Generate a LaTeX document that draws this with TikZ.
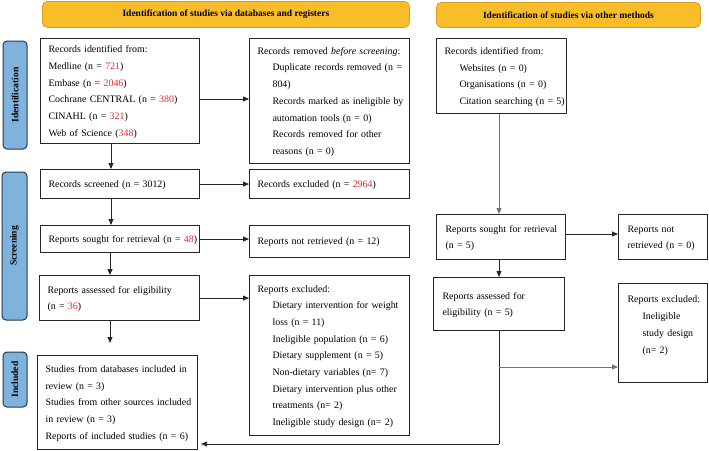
\documentclass[tikz,border=0pt]{standalone}
\usepackage{fontspec}
\setmainfont{Liberation Serif}
\usetikzlibrary{arrows.meta,calc}
\definecolor{numred}{RGB}{232,40,40}
\definecolor{hdrfill}{RGB}{248,189,40}
\definecolor{hdrdraw}{RGB}{214,156,40}
\definecolor{sidefill}{RGB}{128,178,222}
\definecolor{sidedraw}{RGB}{40,55,75}
\newcommand\rn[1]{\textcolor{numred}{#1}}
\newcommand\ind{\hspace*{15pt}}
\newcommand\tl[1]{\begin{tabular}{@{}l@{}}#1\end{tabular}}
\begin{document}
\begin{tikzpicture}[x=1pt,y=-1pt,
  box/.style={draw=black!85, line width=1.1pt, anchor=north west, inner xsep=8pt, inner ysep=2pt,
    align=left, font=\fontsize{9.9}{16.7}\selectfont},
  hdr/.style={draw=hdrdraw, fill=hdrfill, line width=0.8pt, rounded corners=5pt, anchor=north west,
    inner sep=0pt, font=\fontsize{9.5}{11}\selectfont\bfseries},
  side/.style={draw=sidedraw, fill=sidefill, line width=1pt, rounded corners=4pt, rotate=90,
    inner sep=0pt, font=\fontsize{9.5}{11}\selectfont\bfseries},
  arr/.style={draw=black!85, line width=0.8pt, -{Triangle[length=6pt,width=5pt]}},
  ln/.style={draw=black!85, line width=0.8pt},
  garr/.style={draw=black!55, line width=0.8pt, -{Triangle[length=6pt,width=5pt]}}
]
\useasboundingbox (0,0) rectangle (709,450);

% headers
\node[hdr, minimum width=367pt, minimum height=26pt] (h1) at (42,1) {Identification of studies via databases and registers};
\node[hdr, minimum width=264pt, minimum height=25pt] (h2) at (436,2) {Identification of studies via other methods};

% side labels
\node[side, minimum width=108pt, minimum height=24pt] (sid) at (15,95) {Identification};
\node[side, minimum width=148pt, minimum height=25pt] (ssc) at (14.5,246) {Screening};
\node[side, minimum width=55pt, minimum height=24pt] (sin) at (15,379.5) {Included};

% left column
\node[box, text width=143pt, minimum height=105pt] (A) at (40,38) {\tl{Records identified from:\\
Medline (n = \rn{721})\\
Embase (n = \rn{2046})\\
Cochrane CENTRAL (n = \rn{380})\\
CINAHL (n = \rn{321})\\
Web of Science (\rn{348})}};

\node[box, text width=144pt, minimum height=125pt] (B) at (249,38) {\tl{Records removed \textit{before screening}:\\
\ind Duplicate records removed (n =\\
\ind 804)\\
\ind Records marked as ineligible by\\
\ind automation tools (n = 0)\\
\ind Records removed for other\\
\ind reasons (n = 0)}};

\node[box, text width=143pt, minimum height=29pt] (C) at (40,169) {\tl{Records screened (n = 3012)}};
\node[box, text width=144pt, minimum height=29pt] (D) at (249,169) {\tl{Records excluded (n = \rn{2964})}};

\node[box, text width=143pt, minimum height=27pt] (E) at (40,225) {\tl{Reports sought for retrieval (n = \rn{48})}};
\node[box, text width=144pt, minimum height=32pt] (E2) at (249,225) {\tl{Reports not retrieved (n = 12)}};

\node[box, text width=144pt, minimum height=45pt] (F) at (39,275) {\tl{Reports assessed for eligibility\\
(n = \rn{36})}};

\node[box, text width=144pt, minimum height=160pt] (G) at (249,275) {\tl{Reports excluded:\\
\ind Dietary intervention for weight\\
\ind loss (n = 11)\\
\ind Ineligible population (n = 6)\\
\ind Dietary supplement (n = 5)\\
\ind Non-dietary variables (n= 7)\\
\ind Dietary intervention plus other\\
\ind treatments (n= 2)\\
\ind Ineligible study design (n= 2)}};

\node[box, text width=144pt, minimum height=94pt] (H) at (37,355) {\tl{Studies from databases included in\\
review (n = 3)\\
Studies from other sources included\\
in review (n = 3)\\
Reports of included studies (n = 6)}};

% right column
\node[box, inner xsep=8pt, text width=114pt, minimum height=75pt] (I) at (436,38) {\tl{Records identified from:\\
\ind Websites (n = 0)\\
\ind Organisations (n = 0)\\
\ind Citation searching (n = 5)}};

\node[box, inner xsep=9pt, text width=111pt, minimum height=45pt] (J) at (436,214) {\tl{Reports sought for retrieval\\
(n = 5)}};
\node[box, inner xsep=9pt, text width=71pt, minimum height=45pt] (K) at (618,214) {\tl{Reports not\\
retrieved (n = 0)}};

\node[box, inner xsep=9pt, text width=113pt, minimum height=53pt] (L) at (433,277) {\tl{Reports assessed for\\
eligibility (n = 5)}};

\node[box, inner xsep=9pt, text width=71pt, minimum height=99pt] (M) at (618,283) {\tl{Reports excluded:\\
\ind Ineligible\\
\ind study design\\
\ind (n= 2)\\
\mbox{}}};

% helper coordinates
\coordinate (xl) at (111,0);
\coordinate (xl2) at (110,0);
\coordinate (xr) at (499,0);
\coordinate (yab) at (0,99);
\coordinate (yjk) at (0,234);
\coordinate (ybr) at (0,367);
\coordinate (ybot) at (0,444);
\coordinate (bend) at (xr |- ybot);
\coordinate (br) at (xr |- ybr);

% left arrows
\draw[arr] (A.south -| xl) -- (C.north -| xl);
\draw[arr] (A.east |- yab) -- (B.west |- yab);
\draw[arr] (C.east) -- (C.east -| D.west);
\draw[arr] (C.south -| xl) -- (E.north -| xl);
\draw[arr] (E.east) -- (E.east -| E2.west);
\draw[arr] (E.south -| xl2) -- (F.north -| xl2);
\draw[arr] (F.east) -- (F.east -| G.west);
\draw[arr, shorten >=12pt] (F.south -| xl2) -- (H.north -| xl2);

% right arrows
\draw[garr] (I.south -| xr) -- (J.north -| xr);
\draw[arr] (J.east |- yjk) -- (K.west |- yjk);
\draw[arr] (J.south -| xr) -- (L.north -| xr);
\draw[ln] (L.south -| xr) -- (bend);
\draw[arr, shorten >=3pt] (bend) -- (H.east |- ybot);
\draw[garr] (br) -- (M.west |- ybr);
\end{tikzpicture}
\end{document}
